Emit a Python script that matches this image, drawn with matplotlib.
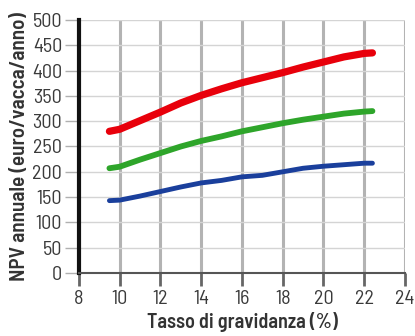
import matplotlib
matplotlib.use("Agg")
import matplotlib.pyplot as plt

# Tasso di gravidanza (%) e NPV annuale per le tre curve
tasso = [9.5, 10, 11, 12, 13, 14, 15, 16, 17, 18, 19, 20, 21, 22, 22.4]
npv_alto = [280, 284, 301, 318, 336, 351, 364, 376, 386, 396, 407, 417, 427, 434, 435]
npv_medio = [207, 210, 224, 237, 250, 261, 270, 280, 288, 296, 303, 309, 315, 319, 320]
npv_basso = [143, 144, 152, 161, 170, 178, 183, 190, 193, 200, 207, 211, 214, 217, 217]

x_ticks = [8, 10, 12, 14, 16, 18, 20, 22, 24]
y_ticks = list(range(0, 501, 50))

# carattere condensato (con ripiego su DejaVu Sans Condensed)
plt.rcParams["font.family"] = ["Barlow Semi Condensed", "DejaVu Sans"]
plt.rcParams["font.stretch"] = "condensed"

fig = plt.figure(figsize=(4.15, 3.36), dpi=100)
ax = fig.add_axes([0.190, 0.1875, 0.786, 0.753])

ax.set_xlim(8, 24)
ax.set_ylim(0, 500)
ax.set_xticks(x_ticks)
ax.set_yticks(y_ticks)

# griglia: verticali grigie spesse, orizzontali chiare
for xv in x_ticks[1:]:
    ax.axvline(xv, color="#b3b3b3", lw=2.2, zorder=1)
for yv in y_ticks[1:]:
    ax.axhline(yv, color="#d4d4d4", lw=1.0, zorder=1)

ax.plot(tasso, npv_alto, color="#e8000b", lw=5.2, solid_capstyle="round", zorder=3)
ax.plot(tasso, npv_medio, color="#2ea52a", lw=4.2, solid_capstyle="round", zorder=3)
ax.plot(tasso, npv_basso, color="#1a3f9c", lw=3.5, solid_capstyle="round", zorder=3)

for s in ["top", "right"]:
    ax.spines[s].set_visible(False)
ax.spines["left"].set_color("#111111")
ax.spines["left"].set_linewidth(3)
ax.spines["bottom"].set_color("#555555")
ax.spines["bottom"].set_linewidth(1.5)

ax.tick_params(axis="both", labelcolor="#3a3a3a", labelsize=14.5)
ax.tick_params(axis="y", length=10, width=1, color="#b0b0b0", pad=2)
ax.tick_params(axis="x", length=9, width=2, color="#666666", pad=3)

ax.set_xlabel("Tasso di gravidanza (%)", fontsize=14.5, fontweight="semibold",
              color="#333333", labelpad=3)
ax.set_ylabel("NPV annuale (euro/vacca/anno)", fontsize=15.2, fontweight="semibold",
              color="#333333", labelpad=2)

fig.savefig("out.png", dpi=100, facecolor="white")
